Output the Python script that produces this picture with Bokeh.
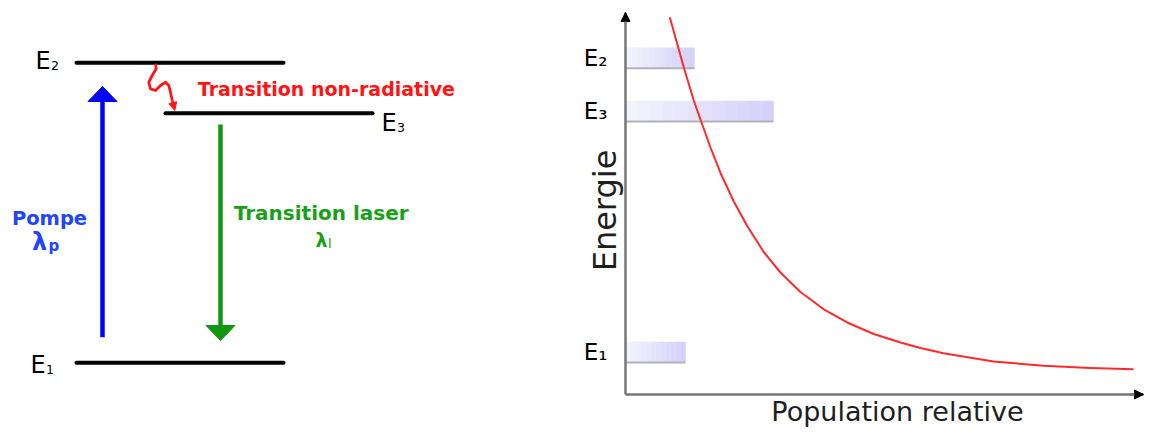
import math
from bokeh.plotting import figure
from bokeh.layouts import row
from bokeh.models import Range1d, Arrow, NormalHead, Label, FixedTicker
from bokeh.core.properties import value
from bokeh.embed import file_html
from bokeh.resources import INLINE

# ---------------- Left diagram: three-level laser scheme ----------------
level_letter = ["E", "E", "E"]
level_index = ["1", "2", "3"]
level_energy = [0.0, 10.0, 8.32]          # E1, E2, E3 (diagram units)
level_x0 = [76, 76, 165]
level_x1 = [283, 283, 372]
label_x = [30, 35, 381]                   # where each level's name starts
label_energy = [-0.057, 10.06, 7.993]     # vertical centre of each level's name

arrow_names = ["Pompe", "Transition laser"]
arrow_x = [102, 220]
arrow_from = [0.853, 7.943]
arrow_to = [9.21, 0.743]
arrow_colors = ["#0000ff", "#109910"]

squiggle_x = [155, 155.7, 151.7, 148.3, 150, 155, 160, 165, 168.3, 170, 171.7, 174.3]
squiggle_y = [9.967, 9.8, 9.577, 9.353, 9.133, 9.077, 9.243, 9.353, 9.243, 9.02, 8.743, 8.41]

# ---------------- Right chart: population vs energy ----------------
band_labels = ["E\u2081", "E\u2083", "E\u2082"]
band_energy = [1.122, 7.27, 8.63]         # bottom of each band
band_population = [1.143, 2.82, 1.314]
band_thickness = 0.53

curve_population = [0.844, 0.985, 1.110, 1.301, 1.442, 1.619, 1.810, 2.063, 2.318, 2.634,
                    2.952, 3.333, 3.777, 4.223, 4.730, 5.238, 5.619, 6.057, 7.010, 7.962,
                    8.857, 9.676]
curve_energy = [9.931, 9.253, 8.656, 7.806, 7.270, 6.607, 5.957, 5.230, 4.605, 3.941,
                3.418, 2.921, 2.480, 2.143, 1.849, 1.633, 1.492, 1.357, 1.148, 1.038,
                0.982, 0.952]

axis_population_end = 9.867
axis_energy_start = 0.306
axis_energy_end = 10.051

FONT = "DejaVu Sans"

# ======================= left figure =======================
L = figure(width=552, height=427, x_range=Range1d(0, 552), y_range=Range1d(-2.157, 12.077),
           output_backend="svg", toolbar_location=None, min_border=0,
           x_axis_location=None, y_axis_location=None)
L.grid.visible = False
L.outline_line_color = None

L.segment(x0=level_x0, y0=level_energy, x1=level_x1, y1=level_energy,
          line_width=4, line_color="black", line_cap="round")

L.text(x=label_x, y=label_energy, text=level_letter, text_font=value(FONT),
       text_font_size=value("24px"), text_baseline="middle", text_align="left",
       text_color="black")
L.text(x=[x + 15.5 for x in label_x], y=[e - 0.15 for e in label_energy], text=level_index,
       text_font=value(FONT), text_font_size=value("12.5px"), text_baseline="middle",
       text_align="left", text_color="black")

# arrows (shaft + wide flat head)
px_per_unit_y = 30.0
head_len, head_half = 15.0, 14.5
for x, a, b, c in zip(arrow_x, arrow_from, arrow_to, arrow_colors):
    d = 1 if b > a else -1
    base = b - d * head_len / px_per_unit_y
    L.segment(x0=[x], y0=[a], x1=[x], y1=[base], line_color=c, line_width=4.5)
    L.patch([x - head_half, x, x + head_half], [base, b, base], fill_color=c, line_color=c)

red = "#ff1414"
L.line(squiggle_x[:-1], squiggle_y[:-1], line_color=red, line_width=2.8, line_join="round")
L.add_layout(Arrow(end=NormalHead(size=8, fill_color=red, line_color=red),
                   x_start=squiggle_x[-2], y_start=squiggle_y[-2],
                   x_end=squiggle_x[-1], y_end=squiggle_y[-1],
                   line_color=red, line_width=2.8))

L.text(x=[197.3], y=[9.12], text=["Transition non-radiative"], text_font=value(FONT),
       text_font_style="bold", text_font_size=value("19px"), text_color=red,
       text_baseline="middle", text_align="left")
L.text(x=[233.3], y=[4.977], text=[arrow_names[1]], text_font=value(FONT),
       text_font_style="bold", text_font_size=value("20px"), text_color="#18a018",
       text_baseline="middle", text_align="left")
L.text(x=[315], y=[4.077], text=["\u03bb"], text_font=value(FONT),
       text_font_style="bold", text_font_size=value("19px"), text_color="#18a018",
       text_baseline="middle", text_align="left")
L.text(x=[327.5], y=[3.98], text=["l"], text_font=value(FONT),
       text_font_size=value("13px"), text_color="#18a018",
       text_baseline="middle", text_align="left")
L.text(x=[49], y=[4.81], text=[arrow_names[0]], text_font=value(FONT),
       text_font_style="bold", text_font_size=value("19.5px"), text_color="#2244ff",
       text_baseline="middle", text_align="center")
L.text(x=[31.5], y=[4.01], text=["\u03bb"], text_font=value(FONT),
       text_font_style="bold", text_font_size=value("24px"), text_color="#2244ff",
       text_baseline="middle", text_align="left")
L.text(x=[48], y=[3.88], text=["p"], text_font=value(FONT),
       text_font_style="bold", text_font_size=value("15px"), text_color="#2244ff",
       text_baseline="middle", text_align="left")

# ======================= right figure =======================
R = figure(width=593, height=427, x_range=Range1d(-1.390, 9.905), y_range=Range1d(-0.536, 10.357),
           output_backend="svg", toolbar_location=None, min_border=0)
R.grid.visible = False
R.outline_line_color = None

# bands with a left-to-right lavender gradient
n = 12
c0, c1 = (243, 243, 252), (212, 209, 250)
lefts, rights, bottoms, tops, cols = [], [], [], [], []
for e, pop in zip(band_energy, band_population):
    for i in range(n):
        t = i / (n - 1)
        rgb = tuple(int(round(c0[k] + (c1[k] - c0[k]) * t)) for k in range(3))
        lefts.append(pop * i / n)
        rights.append(pop * (i + 1) / n + 0.005)
        bottoms.append(e)
        tops.append(e + band_thickness)
        cols.append("#%02x%02x%02x" % rgb)
R.quad(left=lefts, right=rights, bottom=bottoms, top=tops, fill_color=cols, line_color=None)
R.segment(x0=[0] * len(band_energy), y0=band_energy, x1=band_population, y1=band_energy,
          line_color="#b2b2ba", line_width=2)

R.line(curve_population, curve_energy, line_color="#ff2a2a", line_width=2, line_join="round")

centers = [e + band_thickness / 2 for e in band_energy]
R.yaxis.ticker = FixedTicker(ticks=centers)
R.yaxis.major_label_overrides = {c: lab for c, lab in zip(centers, band_labels)}
R.yaxis.fixed_location = 0
R.yaxis.bounds = (axis_energy_start, axis_energy_end)
R.xaxis.ticker = FixedTicker(ticks=[])
R.xaxis.fixed_location = axis_energy_start
R.xaxis.bounds = (0, axis_population_end)
for ax in (R.xaxis, R.yaxis):
    ax.axis_line_color = "#777777"
    ax.axis_line_width = 2.5
    ax.major_tick_line_color = None
    ax.minor_tick_line_color = None
    ax.major_label_text_font = FONT
    ax.major_label_text_font_size = "23px"
    ax.major_label_text_color = "black"
R.yaxis.major_label_standoff = 12

R.add_layout(Arrow(end=NormalHead(size=9, fill_color="black", line_color="black"),
                   x_start=0, y_start=axis_energy_end - 0.25, x_end=0, y_end=axis_energy_end,
                   line_color="#777777", line_width=2.5))
R.add_layout(Arrow(end=NormalHead(size=9, fill_color="black", line_color="black"),
                   x_start=axis_population_end - 0.25, y_start=axis_energy_start,
                   x_end=axis_population_end, y_end=axis_energy_start,
                   line_color="#777777", line_width=2.5))

R.add_layout(Label(x=-0.381, y=5.0, text="Energie", angle=math.pi / 2,
                   text_align="center", text_baseline="middle",
                   text_font=FONT, text_font_size="32px", text_color="#1e1e1e"))
R.add_layout(Label(x=5.181, y=-0.128, text="Population relative",
                   text_align="center", text_baseline="middle",
                   text_font=FONT, text_font_size="27px", text_color="#1e1e1e"))

layout = row(L, R)
open("out.html", "w").write(file_html(layout, INLINE))
